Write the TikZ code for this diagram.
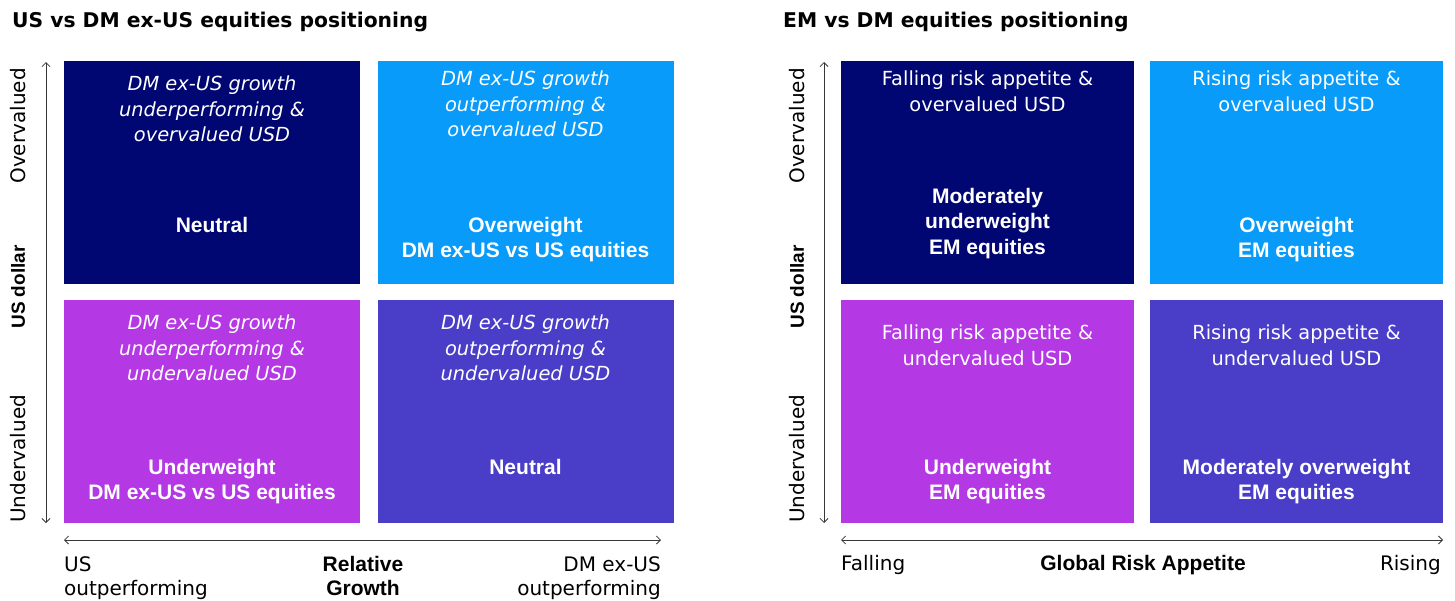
\documentclass[tikz,border=0pt]{standalone}
\usepackage{fontspec}
\setmainfont{DejaVu Sans}
\newfontfamily\libsans{Liberation Sans}
\usetikzlibrary{arrows.meta, positioning}
\definecolor{navyblock}{RGB}{0,6,114}
\definecolor{skyblock}{RGB}{8,155,250}
\definecolor{violetblock}{RGB}{181,56,229}
\definecolor{indigoblock}{RGB}{74,62,200}
\definecolor{axisgray}{RGB}{55,55,55}
\newcommand{\casefont}{\fontsize{19.4}{25.5}\selectfont}

\begin{document}
\begin{tikzpicture}[x=1pt, y=-1pt,
    quadrant/.style={rectangle, inner sep=0pt, minimum width=296pt, minimum height=223pt},
    scenario/.style={inner sep=0pt, align=center, text=white, font=\casefont},
    slanted/.style={scenario, font=\casefont\itshape},
    stance/.style={inner sep=0pt, align=center, text=white, font=\libsans\bfseries\fontsize{21}{25.5}\selectfont},
    axisline/.style={draw=axisgray, line width=0.8pt, {Straight Barb[length=4pt, width=8pt]}-{Straight Barb[length=4pt, width=8pt]}},
    axislabel/.style={inner sep=0pt, font=\fontsize{20}{24}\selectfont},
    axistitle/.style={inner sep=0pt, align=center, font=\libsans\bfseries\fontsize{21}{24.5}\selectfont},
    heading/.style={anchor=base west, inner sep=0pt, font=\bfseries\fontsize{20.3}{24}\selectfont}]
    \useasboundingbox (0,0) rectangle (1455,600);

    % Left panel: US vs DM ex-US
    \node[heading] (usTitle) at (12,27) {US vs DM ex-US equities positioning};

    \node[quadrant, fill=navyblock] (usTL) at (212,172.5) {};
    \node[quadrant, fill=skyblock] (usTR) at (525.5,172.5) {};
    \node[quadrant, fill=violetblock] (usBL) at (212,411.5) {};
    \node[quadrant, fill=indigoblock] (usBR) at (525.5,411.5) {};

    \node[slanted, below=15pt of usTL.north] (usTLcase) {DM ex-US growth\\underperforming \&\\overvalued USD};
    \node[stance, below=156pt of usTL.north] (usTLcall) {Neutral};
    \node[slanted, below=10pt of usTR.north] (usTRcase) {DM ex-US growth\\outperforming \&\\overvalued USD};
    \node[stance, below=156pt of usTR.north] (usTRcall) {Overweight\\DM ex-US vs US equities};
    \node[slanted, below=15pt of usBL.north] (usBLcase) {DM ex-US growth\\underperforming \&\\undervalued USD};
    \node[stance, below=159pt of usBL.north] (usBLcall) {Underweight\\DM ex-US vs US equities};
    \node[slanted, below=15pt of usBR.north] (usBRcase) {DM ex-US growth\\outperforming \&\\undervalued USD};
    \node[stance, below=159pt of usBR.north] (usBRcall) {Neutral};

    % Axes
    \coordinate (usYtop) at (46,62);
    \coordinate (usYbot) at (46,523);
    \coordinate (usXleft) at (64,540);
    \coordinate (usXright) at (661,540);
    \draw[axisline] (usYtop) -- (usYbot);
    \draw[axisline] (usXleft) -- (usXright);

    \node[axislabel, rotate=90, anchor=east] (usOver) at (18,68) {Overvalued};
    \node[axistitle, rotate=90, font=\libsans\bfseries\fontsize{19}{22}\selectfont] (usDollar) at (18,287) {US dollar};
    \node[axislabel, rotate=90, anchor=west] (usUnder) at (18,523) {Undervalued};

    \node[axislabel, anchor=north west, align=left] (usLow) at (64,556) {US\\outperforming};
    \node[axistitle, anchor=north] (usGrowth) at (363,556) {Relative\\Growth};
    \node[axislabel, anchor=north east, align=right] (usHigh) at (661,556) {DM ex-US\\outperforming};

    % Right panel: EM vs DM
    \node[heading] (emTitle) at (783,27) {EM vs DM equities positioning};

    \node[quadrant, minimum width=293pt, fill=navyblock] (emTL) at (987.5,172.5) {};
    \node[quadrant, minimum width=293pt, fill=skyblock] (emTR) at (1296.5,172.5) {};
    \node[quadrant, minimum width=293pt, fill=violetblock] (emBL) at (987.5,411.5) {};
    \node[quadrant, minimum width=293pt, fill=indigoblock] (emBR) at (1296.5,411.5) {};

    \node[scenario, below=10pt of emTL.north] (emTLcase) {Falling risk appetite \&\\overvalued USD};
    \node[stance, below=127pt of emTL.north] (emTLcall) {Moderately\\underweight\\EM equities};
    \node[scenario, below=10pt of emTR.north] (emTRcase) {Rising risk appetite \&\\overvalued USD};
    \node[stance, below=156pt of emTR.north] (emTRcall) {Overweight\\EM equities};
    \node[scenario, below=25pt of emBL.north] (emBLcase) {Falling risk appetite \&\\undervalued USD};
    \node[stance, below=159pt of emBL.north] (emBLcall) {Underweight\\EM equities};
    \node[scenario, below=25pt of emBR.north] (emBRcase) {Rising risk appetite \&\\undervalued USD};
    \node[stance, below=159pt of emBR.north] (emBRcall) {Moderately overweight\\EM equities};

    % Axes
    \coordinate (emYtop) at (824,62);
    \coordinate (emYbot) at (824,523);
    \coordinate (emXleft) at (841,540);
    \coordinate (emXright) at (1443,540);
    \draw[axisline] (emYtop) -- (emYbot);
    \draw[axisline] (emXleft) -- (emXright);

    \node[axislabel, rotate=90, anchor=east] (emOver) at (797,68) {Overvalued};
    \node[axistitle, rotate=90, font=\libsans\bfseries\fontsize{19}{22}\selectfont] (emDollar) at (797,287) {US dollar};
    \node[axislabel, rotate=90, anchor=west] (emUnder) at (797,523) {Undervalued};

    \node[axislabel, anchor=north west] (emLow) at (841,555) {Falling};
    \node[axistitle, anchor=north] (emRisk) at (1143,555) {Global Risk Appetite};
    \node[axislabel, anchor=north east] (emHigh) at (1441,555) {Rising};
\end{tikzpicture}
\end{document}
